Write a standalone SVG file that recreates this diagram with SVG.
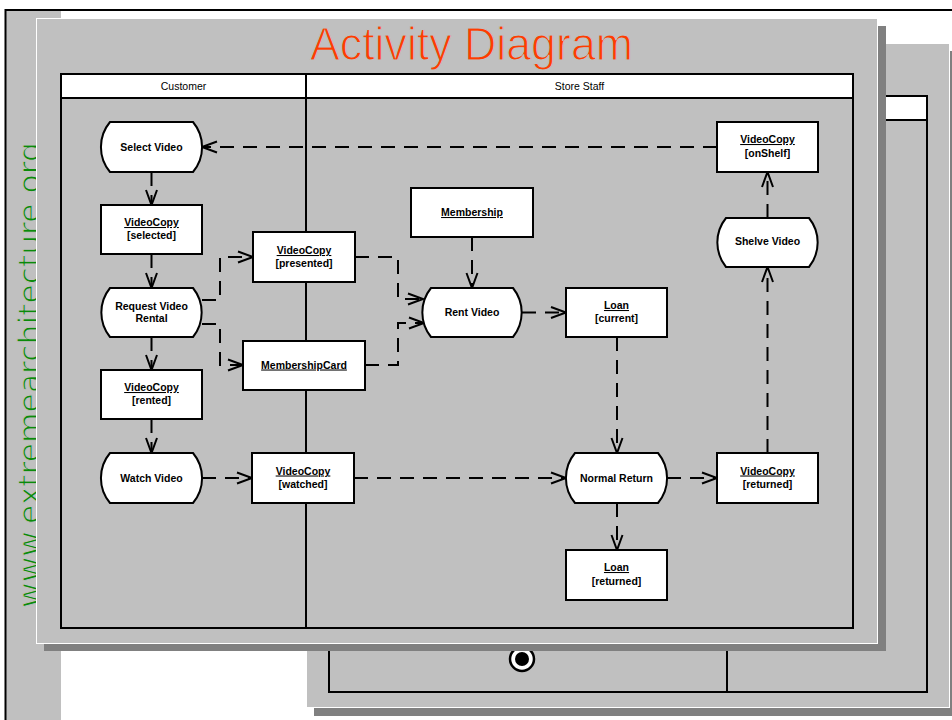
<svg xmlns="http://www.w3.org/2000/svg" width="952" height="720" viewBox="0 0 952 720">
<style>
.slide{fill:#c0c0c0;stroke:#ffffff;stroke-width:1}
.shadow{fill:#808080}
.lane{fill:none;stroke:#000;stroke-width:2}
.hdr{fill:#ffffff;stroke:#000;stroke-width:2}
.node{fill:#ffffff;stroke:#000;stroke-width:2}
.lbl{font-family:"Liberation Sans",Arial,sans-serif;font-size:10.5px;font-weight:bold;fill:#000;text-anchor:middle}
.u{text-decoration:underline}
.hd{font-family:"Liberation Sans",Arial,sans-serif;font-size:10.5px;fill:#000;text-anchor:middle}
.flow{fill:none;stroke:#000;stroke-width:2;stroke-dasharray:14 9;marker-end:url(#arr)}
</style>
<defs>
<marker id="arr" markerUnits="userSpaceOnUse" markerWidth="20" markerHeight="16" refX="16" refY="7" orient="auto">
<path d="M1,1.5 L16,7 L1,12.5" fill="none" stroke="#000" stroke-width="2"/>
</marker>
</defs>
<rect x="0" y="0" width="952" height="720" fill="#ffffff"/>
<g id="outer-frame">
<rect x="6" y="11" width="55" height="709" fill="#c0c0c0"/>
<path d="M5.5,720 V10 H952" fill="none" stroke="#000" stroke-width="2"/>
<text transform="translate(40,608) rotate(-90)" x="0" y="0" textLength="466" lengthAdjust="spacingAndGlyphs" font-family="DejaVu Sans,sans-serif" font-size="31" fill="#0a8a0a" stroke="#c0c0c0" stroke-width="1">www.extremearchitecture.org</text>
</g>
<g id="back-slide">
<rect class="shadow" x="314" y="51" width="644" height="665"/>
<rect class="slide" x="306.5" y="43.5" width="643" height="664"/>
<rect class="hdr" x="329" y="96" width="598" height="24"/>
<rect class="lane" x="329" y="96" width="598" height="596"/>
<line x1="727" y1="120" x2="727" y2="692" stroke="#000" stroke-width="2"/>
<g id="final-state">
<circle cx="522" cy="659" r="12" fill="#ffffff" stroke="#000" stroke-width="2.5"/>
<circle cx="522" cy="659" r="7" fill="#000"/>
</g>
</g>
<g id="main-slide">
<rect class="shadow" x="44" y="26" width="842" height="625"/>
<rect class="slide" x="36.5" y="18.5" width="841" height="625"/>
<text x="471.5" y="60" text-anchor="middle" textLength="323" lengthAdjust="spacingAndGlyphs" font-family="Liberation Sans,Arial,sans-serif" font-size="46" fill="#ff3c00" stroke="#c0c0c0" stroke-width="1.2">Activity Diagram</text>
</g>
<g id="swimlanes">
<rect class="hdr" x="61" y="74" width="792" height="24"/>
<rect class="lane" x="61" y="74" width="792" height="554"/>
<line x1="306" y1="74" x2="306" y2="628" stroke="#000" stroke-width="2"/>
<text class="hd" x="183.5" y="90">Customer</text>
<text class="hd" x="579.5" y="90">Store Staff</text>
</g>
<g id="connectors">
<path class="flow" d="M717,147 H202"/>
<path class="flow" d="M151.5,172 V205"/>
<path class="flow" d="M151.5,254 V288"/>
<path class="flow" d="M151.5,337 V370"/>
<path class="flow" d="M151.5,419 V453"/>
<path class="flow" d="M202,300 H220 V257 H253"/>
<path class="flow" d="M202,324 H220 V365 H243"/>
<path class="flow" d="M355,257 H398 V299 H423"/>
<path class="flow" d="M365,365 H398 V323 H424"/>
<path class="flow" d="M472,237 V288"/>
<path class="flow" d="M522,312.5 H566"/>
<path class="flow" d="M617,337 V453"/>
<path class="flow" d="M354,478 H566"/>
<path class="flow" d="M202,478 H252"/>
<path class="flow" d="M667,478 H717"/>
<path class="flow" d="M617,503 V550"/>
<path class="flow" d="M767.5,453 V267"/>
<path class="flow" d="M767.5,218 V172"/>
</g>
<g id="select-video">
<path class="node" d="M110,122 H193 A39,39 0 0 1 193,172 H110 A39,39 0 0 1 110,122 Z"/>
<text class="lbl" x="151.5" y="150.5">Select Video</text>
</g>
<g id="videocopy-selected">
<rect class="node" x="101" y="205" width="101" height="49"/>
<text class="lbl u" x="151.5" y="226">VideoCopy</text>
<text class="lbl" x="151.5" y="239">[selected]</text>
</g>
<g id="request-video-rental">
<path class="node" d="M110,288 H193 A39,39 0 0 1 193,337 H110 A39,39 0 0 1 110,288 Z"/>
<text class="lbl" x="151.5" y="309.5">Request Video</text>
<text class="lbl" x="151.5" y="322">Rental</text>
</g>
<g id="videocopy-rented">
<rect class="node" x="101" y="370" width="101" height="49"/>
<text class="lbl u" x="151.5" y="391">VideoCopy</text>
<text class="lbl" x="151.5" y="404">[rented]</text>
</g>
<g id="watch-video">
<path class="node" d="M110,453 H193 A39,39 0 0 1 193,503 H110 A39,39 0 0 1 110,453 Z"/>
<text class="lbl" x="151.5" y="481.5">Watch Video</text>
</g>
<g id="videocopy-presented">
<rect class="node" x="253" y="232" width="102" height="50"/>
<text class="lbl u" x="304" y="254">VideoCopy</text>
<text class="lbl" x="304" y="267">[presented]</text>
</g>
<g id="membershipcard">
<rect class="node" x="243" y="341" width="122" height="49"/>
<text class="lbl u" x="304" y="368.5">MembershipCard</text>
</g>
<g id="videocopy-watched">
<rect class="node" x="252" y="453" width="102" height="50"/>
<text class="lbl u" x="303" y="474.5">VideoCopy</text>
<text class="lbl" x="303" y="487.5">[watched]</text>
</g>
<g id="membership">
<rect class="node" x="411" y="188" width="122" height="49"/>
<text class="lbl u" x="472" y="216">Membership</text>
</g>
<g id="rent-video">
<path class="node" d="M431,288 H513 A39,39 0 0 1 513,337 H431 A39,39 0 0 1 431,288 Z"/>
<text class="lbl" x="472" y="316">Rent Video</text>
</g>
<g id="loan-current">
<rect class="node" x="566" y="288" width="101" height="49"/>
<text class="lbl u" x="616.5" y="309">Loan</text>
<text class="lbl" x="616.5" y="322">[current]</text>
</g>
<g id="videocopy-onshelf">
<rect class="node" x="717" y="122" width="101" height="50"/>
<text class="lbl u" x="767.5" y="143">VideoCopy</text>
<text class="lbl" x="767.5" y="156.5">[onShelf]</text>
</g>
<g id="shelve-video">
<path class="node" d="M726,218 H809 A39,39 0 0 1 809,267 H726 A39,39 0 0 1 726,218 Z"/>
<text class="lbl" x="767.5" y="245">Shelve Video</text>
</g>
<g id="normal-return">
<path class="node" d="M575,453 H658 A39,39 0 0 1 658,503 H575 A39,39 0 0 1 575,453 Z"/>
<text class="lbl" x="616.5" y="481.5">Normal Return</text>
</g>
<g id="videocopy-returned">
<rect class="node" x="717" y="453" width="101" height="50"/>
<text class="lbl u" x="767.5" y="474.5">VideoCopy</text>
<text class="lbl" x="767.5" y="487.5">[returned]</text>
</g>
<g id="loan-returned">
<rect class="node" x="566" y="550" width="101" height="50"/>
<text class="lbl u" x="616.5" y="571">Loan</text>
<text class="lbl" x="616.5" y="584.5">[returned]</text>
</g>
</svg>
